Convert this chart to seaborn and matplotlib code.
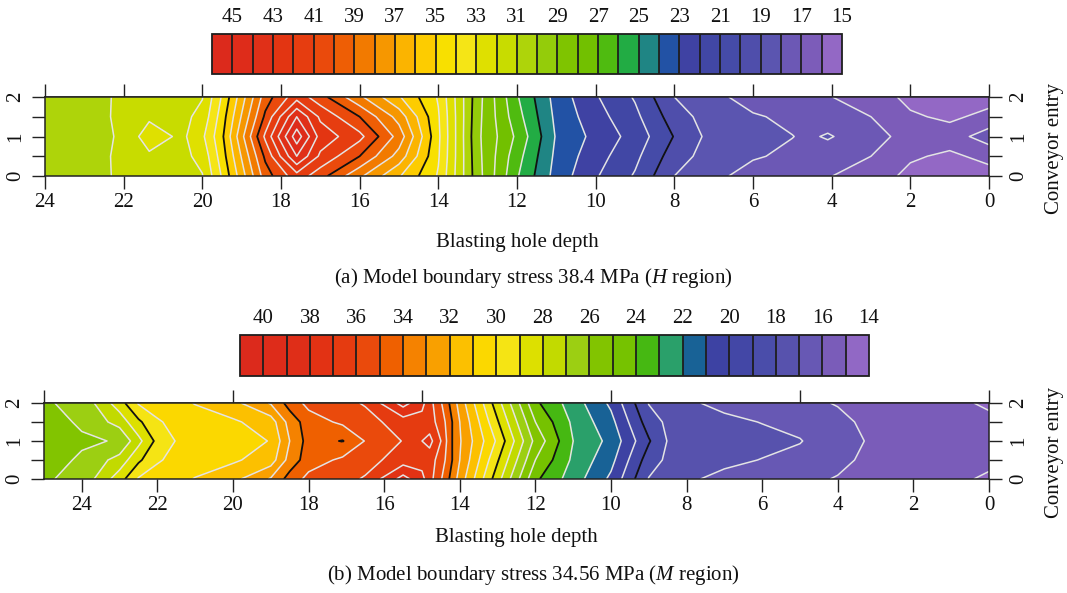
import numpy as np
import matplotlib
matplotlib.use("Agg")
import matplotlib.pyplot as plt
import seaborn as sns

# conveyor entry rows (edge, quarter, centre, quarter, edge)
entry = [0, 0.5, 1, 1.5, 2]

# (a) H region, boundary stress 38.4 MPa
depth_a = [0, 1, 2, 3, 4.1, 4.6, 5, 6, 7, 8, 9, 10, 11, 12, 13, 14,
           15, 16, 17, 17.6, 18.4, 19.5, 20, 20.5, 21.35, 22.2, 23, 24]
edge_a = [15.6, 15.4, 15.7, 16.6, 17.05, 17.25, 17.35, 17.6, 18.25, 19.0,
          20.9, 22.1, 23.6, 26.1, 29.4, 33.9, 36.1, 38.2, 40.4, 41.6,
          39.5, 34.1, 31.95, 31.7, 31.4, 31.05, 30.7, 30.5]
mid_a = [16.3, 15.8, 16.15, 17.0, 17.5, 17.6, 17.8, 18.1, 18.45, 19.5,
         21.25, 22.4, 23.75, 26.4, 29.3, 34.1, 37.6, 40.0, 41.8, 44.0,
         40.2, 34.5, 32.3, 31.75, 31.85, 31.05, 30.75, 30.5]
center_a = [17.5, 16.5, 16.6, 17.4, 18.1, 17.85, 18.02, 18.3, 18.6, 19.95,
            21.6, 22.7, 23.9, 26.8, 29.2, 34.2, 38.6, 41.3, 42.6, 45.6,
            41.2, 34.8, 32.8, 31.8, 32.45, 31.02, 30.7, 30.5]
levels_a = list(range(15, 47))
black_a = [20, 25, 30, 35, 40]
cbar_ticks_a = [45, 43, 41, 39, 37, 35, 33, 31, 29, 27, 25, 23, 21, 19, 17, 15]
colors_a = ["#dc2a1c", "#de2c1a", "#e03018", "#e33512", "#e63d10", "#ea4a0c",
            "#ee5e05", "#f27a00", "#f69700", "#fbb400", "#fdcc00", "#f8e000",
            "#f5e516", "#dfe000", "#c8dc00", "#aed40a", "#94cc0a", "#7fc400",
            "#72c000", "#4fbb10", "#22ac44", "#1f8584", "#2252a5", "#3f42a3",
            "#4147a5", "#454ba8", "#4f4eab", "#5b55b0", "#6c58b5", "#7c5cb9",
            "#9368c5"]

# (b) M region, boundary stress 34.56 MPa
depth_b = [0, 1, 2, 3, 4, 5, 6, 7, 8.5, 9, 10, 11, 12, 13, 14, 14.2, 14.5,
           14.8, 15, 15.5, 16.5, 17.1, 18, 18.5, 19, 20, 21, 21.5, 22, 22.5,
           23, 24, 25]
edge_b = [14.9, 15.15, 15.35, 15.6, 15.95, 16.2, 16.4, 16.6, 17.55, 17.95,
          20.8, 22.5, 24.2, 28.4, 32.6, 33.6, 35.1, 36.4, 37.3, 38.4, 36.1,
          35.7, 35.3, 34.4, 33.1, 31.7, 31.05, 30.7, 30.4, 30.1, 28.55,
          26.25, 25.9]
mid_b = [15.15, 15.3, 15.5, 15.75, 16.2, 16.7, 16.95, 17.35, 17.8, 18.5,
         21.3, 22.8, 25.0, 29.1, 33.0, 34.0, 35.6, 36.4, 36.6, 36.5, 35.6,
         35.2, 34.5, 33.4, 31.5, 30.85, 30.5, 30.25, 29.9, 28.8, 27.4,
         26.1, 25.7]
center_b = [15.35, 15.45, 15.65, 15.85, 16.35, 17.05, 17.45, 17.7, 17.95,
            19.1, 21.7, 23.0, 25.7, 29.8, 33.1, 34.0, 36.0, 37.35, 37.0,
            36.05, 35.05, 33.95, 34.4, 33.0, 31.05, 30.5, 30.2, 30.05, 29.3,
            27.7, 26.05, 25.9, 25.4]
levels_b = list(range(14, 42))
black_b = [19, 24, 29, 34, 39]
cbar_ticks_b = [40, 38, 36, 34, 32, 30, 28, 26, 24, 22, 20, 18, 16, 14]
colors_b = ["#dc2a1c", "#de2c1a", "#df2e18", "#e23214", "#e53b10", "#ea4a0c",
            "#ef6000", "#f58200", "#f9a000", "#fcc000", "#fbd800", "#f5e414",
            "#dde000", "#c2da00", "#9ccf12", "#82c400", "#76c200", "#46b812",
            "#2aa06a", "#186296", "#3d42a3", "#4347a6", "#4a4daa", "#5752ad",
            "#6758b4", "#7a5cb9", "#9168c5"]

W, H = 1067, 593
FS = 15


def frac(x0, y0, x1, y1):
    return [x0 / W, 1 - y1 / H, (x1 - x0) / W, (y1 - y0) / H]


def draw_panel(fig, ax_box, cb_box, depth, edge, mid, center, colors, levels,
               black, cticks, xmax, top_ticks, caption, cap_y, entry_y, xpad):
    ax = fig.add_axes(frac(*ax_box))
    z = np.array([edge, mid, center, mid, edge])
    cs = ax.contourf(depth, entry, z, levels=levels, colors=colors[::-1])
    white = [v for v in levels[1:-1] if v not in black]
    ax.contour(depth, entry, z, levels=white, colors="#e4e4e4", linewidths=1.1)
    ax.contour(depth, entry, z, levels=black, colors="#111111", linewidths=1.3)
    ax.set_xlim(xmax, 0)
    ax.set_ylim(0, 2)
    ax.set_xticks(list(range(24, -1, -2)))
    ax.set_yticks([0, 0.5, 1, 1.5, 2])
    ax.set_yticklabels(["0", "", "1", "", "2"], rotation=90, va="center")
    ax.tick_params(axis="both", length=9.5, width=1, labelsize=FS,
                   color="#222222", labelcolor="#111111")
    ax.tick_params(axis="x", pad=3)
    ax.tick_params(axis="y", right=True, labelright=True, pad=5)
    for s in ax.spines.values():
        s.set_linewidth(1.1)
        s.set_color("#222222")
    top = ax.secondary_xaxis("top")
    top.set_xticks(top_ticks)
    top.set_xticklabels([])
    top.tick_params(length=9.5, width=1, color="#222222")
    top.spines["top"].set_linewidth(1.1)
    ax.set_xlabel("Blasting hole depth", fontsize=FS, labelpad=xpad,
                  color="#111111")

    cax = fig.add_axes(frac(*cb_box))
    cb = fig.colorbar(cs, cax=cax, orientation="horizontal", ticks=cticks)
    cax.invert_xaxis()
    for v in levels[1:-1]:
        cax.axvline(v, color="#1e1e1e", linewidth=1.3)
    cax.xaxis.set_ticks_position("top")
    cax.tick_params(length=0, labelsize=FS, pad=5, labelcolor="#111111")
    cb.outline.set_linewidth(1.3)
    cb.outline.set_edgecolor("#1e1e1e")

    fig.text(533 / W, 1 - cap_y / H, caption, ha="center", va="center",
             fontsize=FS, color="#111111")
    fig.text(1054 / W, 1 - entry_y / H, "Conveyor entry", rotation=90,
             ha="center", va="center", fontsize=FS, color="#111111")
    return ax


def main():
    sns.set_theme(style="ticks")
    plt.rcParams["font.family"] = ["Liberation Serif", "DejaVu Serif"]
    plt.rcParams["mathtext.fontset"] = "custom"
    plt.rcParams["mathtext.rm"] = "Liberation Serif"
    plt.rcParams["mathtext.it"] = "Liberation Serif:italic"

    fig = plt.figure(figsize=(W / 100, H / 100), dpi=100)
    draw_panel(fig, (45, 97, 989, 176), (212, 34, 842, 74),
               depth_a, edge_a, mid_a, center_a, colors_a, levels_a, black_a,
               cbar_ticks_a, 24, list(range(24, -1, -2)),
               r"(a) Model boundary stress 38.4 MPa ($\mathit{H}$ region)",
               278, 148, 15)
    draw_panel(fig, (44, 403, 989, 479), (240, 335, 869, 376),
               depth_b, edge_b, mid_b, center_b, colors_b, levels_b, black_b,
               cbar_ticks_b, 25, [25, 20, 15, 10, 5, 0],
               r"(b) Model boundary stress 34.56 MPa ($\mathit{M}$ region)",
               575, 452, 9)
    fig.savefig("out.png", dpi=100)


if __name__ == "__main__":
    main()
